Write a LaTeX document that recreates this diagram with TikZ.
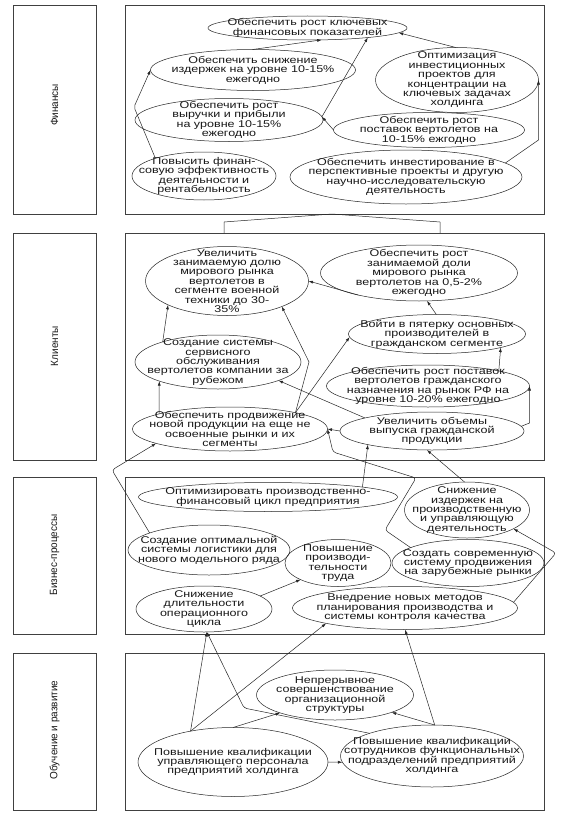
\documentclass[tikz,border=0pt]{standalone}
\usepackage{fontspec}
\newfontfamily\gfont[FakeStretch=1.28]{Liberation Sans}
\newfontfamily\lfont[FakeStretch=0.95]{Liberation Sans}
\usetikzlibrary{arrows.meta,calc,shapes.geometric}
\newcommand\goalnode[5]{%
  \node[goalell, minimum width=#3pt, minimum height=#4pt] (#1) at #2 {};
  \node[goaltxt] (#1t) at (#1.center) {#5};}
\newcommand\goalfont{\gfont\fontsize{9.8}{9.4}\selectfont}
\begin{document}
\lineskiplimit=-20pt
\begin{tikzpicture}[x=1pt,y=-1pt,
  box/.style={draw=black!75, line width=0.6pt, rectangle, inner sep=0pt, outer sep=0pt, anchor=north west},
  goalell/.style={draw=black!85, ellipse, inner sep=0pt, outer sep=0pt, line width=0.5pt},
  goaltxt/.style={align=center, inner sep=0pt, text=black!90, font=\goalfont},
  arr/.style={draw=black!85, line width=0.5pt, -{Latex[length=4.5pt,width=3pt]}},
  con/.style={draw=black!85, line width=0.5pt},
  lab/.style={rotate=90, font=\lfont\fontsize{10.5}{12}\selectfont, inner sep=0pt, text=black!90}
]
\fill[white] (0,0) rectangle (566,816);
\useasboundingbox (0,0) rectangle (566,816);

% boxes
\node[box, minimum width=83pt, minimum height=209pt] (FinL) at (13,5) {};
\node[box, minimum width=419pt, minimum height=209pt] (FinR) at (125,5) {};
\node[box, minimum width=83pt, minimum height=227pt] (CliL) at (13,233) {};
\node[box, minimum width=419pt, minimum height=227pt] (CliR) at (125,233) {};
\node[box, minimum width=83pt, minimum height=157pt] (BusL) at (13,477) {};
\node[box, minimum width=419pt, minimum height=157pt] (BusR) at (125,477) {};
\node[box, minimum width=83pt, minimum height=157pt] (LeaL) at (13,653) {};
\node[box, minimum width=419pt, minimum height=157pt] (LeaR) at (125,653) {};

% labels
\node[lab] (labF) at (54.5,105) {Финансы};
\node[lab] (labC) at (54.5,346) {Клиенты};
\node[lab] (labB) at (54.5,555) {Бизнес-процессы};
\node[lab] (labL) at (54.5,730) {Обучение и развитие};

% bracket between finance and clients
\draw[con] ([xshift=99pt]CliR.north west) -- ([xshift=99pt,yshift=11pt]CliR.north west)
  -- ([xshift=207pt]FinR.south west) -- ([xshift=315pt,yshift=11pt]CliR.north west)
  -- ([xshift=315pt]CliR.north west);

% Finance
\goalnode{F1}{(307.5,28)}{199}{24}{Обеспечить рост ключевых\\финансовых показателей}
\goalnode{F2}{(253,70)}{205}{41}{Обеспечить снижение\\издержек на уровне 10-15\%\\ежегодно}
\goalnode{F3}{(457,80)}{163}{65}{Оптимизация\\инвестиционных\\проектов для\\концентрации на\\ключевых задачах\\холдинга}
\goalnode{F4}{(229,120)}{188}{43}{Обеспечить рост\\выручки и прибыли\\на уровне 10-15\%\\ежегодно}
\goalnode{F5}{(429,130)}{191}{35}{Обеспечить рост\\поставок вертолетов на\\10-15\% ежгодно}
\goalnode{F6}{(204,176)}{144}{48}{Повысить финан-\\совую эффективность\\деятельности и\\рентабельность}
\goalnode{F7}{(406,177)}{232}{54}{Обеспечить инвестирование в\\перспективные проекты и другую\\научно-исследовательскую\\деятельность}

% Clients
\goalnode{C1}{(227,281)}{163}{69}{Увеличить\\занимаемую долю\\мирового рынка\\вертолетов в\\сегменте военной\\техники до 30-\\35\%}
\goalnode{C2}{(419,273)}{197}{56}{Обеспечить рост\\занимаемой доли\\мирового рынка\\вертолетов на 0,5-2\%\\ежегодно}
\goalnode{C3}{(437,334)}{177}{39}{Войти в пятерку основных\\производителей в\\гражданском сегменте}
\goalnode{C4}{(218,362)}{166}{54}{Создание системы\\сервисного\\обслуживания\\вертолетов компании за\\рубежом}
\goalnode{C5}{(428,386)}{203}{42}{Обеспечить рост поставок\\вертолетов гражданского\\назначения на рынок РФ на\\уровне 10-20\% ежегодно}
\goalnode{C6}{(230,429)}{195}{44}{Обеспечить продвижение\\новой продукции на еще не\\освоенные рынки и их\\сегменты}
\goalnode{C7}{(432,431)}{184}{38}{Увеличить объемы\\выпуска гражданской\\продукции}

% Business
\goalnode{B1}{(268,497)}{259}{29}{Оптимизировать производственно-\\финансовый цикл предприятия}
\goalnode{B2}{(467,510)}{125}{56}{Снижение\\издержек на\\производственную\\и управляющую\\деятельность}
\goalnode{B3}{(209,550)}{162}{50}{Создание оптимальной\\системы логистики для\\нового модельного ряда}
\goalnode{B4}{(338,563)}{106}{47}{Повышение\\производи-\\тельности\\труда}
\goalnode{B5}{(468,563)}{152}{47}{Создать современную\\систему продвижения\\на зарубежные рынки}
\goalnode{B6}{(204,609)}{136}{46}{Снижение\\длительности\\операционного\\цикла}
\goalnode{B7}{(405,608)}{225}{43}{Внедрение новых методов\\планирования производства и\\системы контроля качества}

% Learning
\goalnode{L1}{(335,695)}{157}{50}{Непрерывное\\совершенствование\\организационной\\структуры}
\goalnode{L2}{(233,762)}{190}{69}{Повышение квалификации\\управляющего персонала\\предприятий холдинга}
\goalnode{L3}{(432,756)}{183}{62}{Повышение квалификации\\сотрудников функциональных\\подразделений предприятий\\холдинга}

% bend coordinates
\coordinate (f6b) at (134,107);
\coordinate (c6b) at (309,362);
\coordinate (b5a) at (385,530);
\coordinate (b5b) at (416,478);
\coordinate (b5c) at (333,452);
\coordinate (b7b) at (556,553);
\coordinate (b3b) at (112,470);
\coordinate (l3b) at (244,708);

% Finance connectors
\draw[arr] (F2.91) -- (F1.320);
\draw[arr] (F4.2) -- (F1.351);
\draw[arr] (F5.180) -- (F4.2);
\draw[arr] (F3.92) -- (F1.357);
\draw[arr, rounded corners=2pt] (F6.160) -- (f6b) -- (F2.180);
\draw[arr] (F7.8) -- ([yshift=-60pt]F3.east) -- (F3.east);

% Clients connectors
\draw[arr] (C2.200) -- (C1.0);
\draw[arr] (C3.92) -- (C2.286);
\draw[arr] (C4.160) -- (C1.202);
\draw[arr] (C6.168) -- (C4.198);
\draw[arr] (C6.14) -- (c6b) -- (C1.335);
\draw[arr] (C6.14) -- (C3.182);
\draw[arr] (C7.169) -- (C4.343);
\draw[arr] (C7.180) -- (C6.0);
\draw[arr] (C5.12) -- (C3.348);
\draw[arr] (C7.3) -- ([yshift=-37pt]C5.east) -- (C5.east);

% Business connectors
\draw[arr] (B1.6) -- (C7.192);
\draw[arr] (B2.95) -- (C7.255);
\draw[arr, rounded corners=3pt] (B5.165) -- (b5a) -- (b5b) -- (b5c) -- (C6.0);
\draw[arr, rounded corners=3pt] (B7.3) -- (b7b) -- (B2.338);
\draw[arr, rounded corners=3pt] (B3.164) -- (b3b) -- (C6.191);
\draw[arr] (B6.13) -- (B4.204);

% Learning connectors
\draw[arr] (L2.0) -- (L3.184);
\draw[arr] (L2.90) -- (L1.198);
\draw[arr] (L3.85) -- (L1.343);
\draw[arr] (L2.144) -- (B6.277);
\draw[arr] (L2.144) -- (B7.191);
\draw[arr, rounded corners=3pt] (L3.160) -- (l3b) -- (B6.277);
\draw[arr] (L3.85) -- (B7.270);
\end{tikzpicture}
\end{document}
